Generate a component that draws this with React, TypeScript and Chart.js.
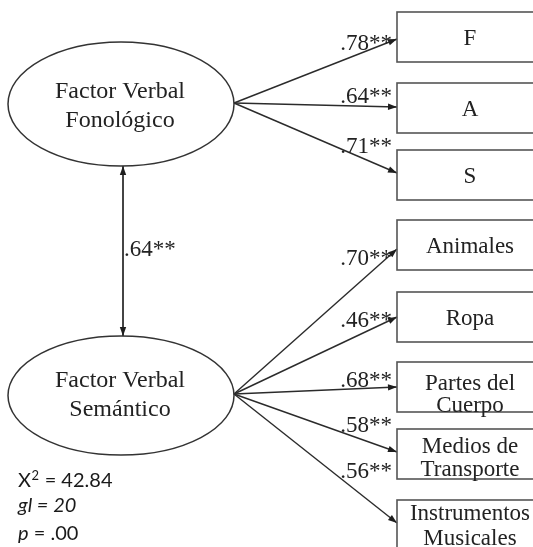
import React, { useEffect, useRef } from "react";
import { Chart, registerables } from "chart.js";

Chart.register(...registerables);

// ---- data ----
const factorNames = ["Factor Verbal\nFonológico", "Factor Verbal\nSemántico"];
const fonIndicators = ["F", "A", "S"];
const fonLoadings = [0.78, 0.64, 0.71];
const semIndicators = ["Animales", "Ropa", "Partes del\nCuerpo", "Medios de\nTransporte", "Instrumentos\nMusicales"];
const semLoadings = [0.7, 0.46, 0.68, 0.58, 0.56];
const factorCorrelation = 0.64;
const significance = "**";
const fitLabels = ["X", "gl", "p"];
const fitValues = ["42.84", "20", ".00"];

// ---- layout ----
const W = 533;
const H = 547;
const ellipses = [
  { cx: 121, cy: 104, rx: 113, ry: 62, textX: 120, baselines: [98, 127] },
  { cx: 121, cy: 395.5, rx: 113, ry: 59.5, textX: 120, baselines: [387, 416] },
];
const sources = [
  { x: 234, y: 103 },
  { x: 234, y: 394 },
];
const boxLeft = 397;
const boxRight = 545;
const boxHeight = 50;
const boxTextX = 470;
const fonBoxTops = [12, 83, 150];
const semBoxTops = [220, 292, 362, 429, 500];
const fonTargets = [39, 107, 173];
const semTargets = [249, 317, 387, 452, 523];
const fonLabelBaselines = [50, 103, 153];
const semLabelBaselines = [265, 327, 387, 432, 478];
const semTextBaselines = [[253], [325], [390, 412], [453, 476], [520, 545]];
const fonTextBaselines = [[45], [116], [183]];
const labelRight = 392;
const corrX = 123;
const corrTop = 166;
const corrBottom = 336;
const corrLabel = { x: 124, y: 256 };
const fitX = 18;
const fitBaselines = [487, 512, 540];

const fmt = (v: number) => "." + v.toFixed(2).slice(2) + significance;

export default function App() {
  const ref = useRef<HTMLCanvasElement | null>(null);

  useEffect(() => {
    document.body.style.margin = "0";
    const canvas = ref.current;
    if (!canvas) return;

    const arrowDatasets: any[] = [];
    fonTargets.forEach((ty) => {
      arrowDatasets.push({ data: [sources[0], { x: boxLeft, y: ty }], heads: "end", borderWidth: 1.4 });
    });
    semTargets.forEach((ty) => {
      arrowDatasets.push({ data: [sources[1], { x: boxLeft, y: ty }], heads: "end", borderWidth: 1.4 });
    });
    arrowDatasets.push({
      data: [
        { x: corrX, y: corrTop },
        { x: corrX, y: corrBottom },
      ],
      heads: "both",
      borderWidth: 1,
    });

    const datasets = arrowDatasets.map((d) => ({
      type: "line" as const,
      data: d.data,
      heads: d.heads,
      showLine: true,
      borderColor: "#2b2b2b",
      borderWidth: d.borderWidth,
      pointRadius: 0,
      fill: false,
      tension: 0,
    }));

    const semPlugin = {
      id: "semPlugin",
      beforeDraw(chart: any) {
        const c = chart.ctx;
        c.save();
        c.fillStyle = "#ffffff";
        c.fillRect(0, 0, chart.width, chart.height);
        c.restore();
      },
      afterDatasetsDraw(chart: any) {
        const c: CanvasRenderingContext2D = chart.ctx;
        const xs = chart.scales.x;
        const ys = chart.scales.y;
        const px = (v: number) => xs.getPixelForValue(v);
        const py = (v: number) => ys.getPixelForValue(v);
        const dx = (v: number) => Math.abs(px(v) - px(0));
        const dy = (v: number) => Math.abs(py(v) - py(0));
        c.save();

        // arrowheads
        const head = (x1: number, y1: number, x2: number, y2: number) => {
          const a = Math.atan2(y2 - y1, x2 - x1);
          const L = 9;
          const Wd = 3.2;
          c.beginPath();
          c.moveTo(x2, y2);
          c.lineTo(x2 - L * Math.cos(a) + Wd * Math.sin(a), y2 - L * Math.sin(a) - Wd * Math.cos(a));
          c.lineTo(x2 - L * Math.cos(a) - Wd * Math.sin(a), y2 - L * Math.sin(a) + Wd * Math.cos(a));
          c.closePath();
          c.fillStyle = "#1e1e1e";
          c.fill();
        };
        chart.data.datasets.forEach((ds: any, i: number) => {
          const pts = chart.getDatasetMeta(i).data;
          if (pts.length < 2) return;
          const p0 = pts[0];
          const p1 = pts[pts.length - 1];
          head(p0.x, p0.y, p1.x, p1.y);
          if (ds.heads === "both") head(p1.x, p1.y, p0.x, p0.y);
        });

        // ellipses
        c.strokeStyle = "#333333";
        c.lineWidth = 1.5;
        ellipses.forEach((e) => {
          c.beginPath();
          c.ellipse(px(e.cx), py(e.cy), dx(e.rx), dy(e.ry), 0, 0, Math.PI * 2);
          c.stroke();
        });

        // boxes
        c.strokeStyle = "#555555";
        c.lineWidth = 1.6;
        const drawBox = (top: number) => {
          c.strokeRect(px(boxLeft), py(top), px(boxRight) - px(boxLeft), dy(boxHeight));
        };
        fonBoxTops.forEach(drawBox);
        semBoxTops.forEach(drawBox);

        // texts
        c.fillStyle = "#222222";
        c.textBaseline = "alphabetic";
        c.textAlign = "center";
        c.font = "24px 'Liberation Serif', 'Times New Roman', serif";
        factorNames.forEach((n, i) => {
          const e = ellipses[i];
          n.split("\n").forEach((line, j) => {
            c.fillText(line, px(e.textX), py(e.baselines[j]));
          });
        });
        c.font = "23px 'Liberation Serif', 'Times New Roman', serif";
        fonIndicators.forEach((n, i) => {
          n.split("\n").forEach((line, j) => {
            c.fillText(line, px(boxTextX), py(fonTextBaselines[i][j]));
          });
        });
        semIndicators.forEach((n, i) => {
          n.split("\n").forEach((line, j) => {
            c.fillText(line, px(boxTextX), py(semTextBaselines[i][j]));
          });
        });

        // loadings
        c.textAlign = "right";
        c.font = "23px 'Liberation Serif', 'Times New Roman', serif";
        fonLoadings.forEach((v, i) => {
          c.fillText(fmt(v), px(labelRight), py(fonLabelBaselines[i]));
        });
        semLoadings.forEach((v, i) => {
          c.fillText(fmt(v), px(labelRight), py(semLabelBaselines[i]));
        });
        c.textAlign = "left";
        c.fillText(fmt(factorCorrelation), px(corrLabel.x), py(corrLabel.y));

        // fit statistics
        c.fillStyle = "#1a1a1a";
        const sans = "'Lato', 'Liberation Sans', sans-serif";
        const x0 = px(fitX);
        // X² line
        c.font = `20px ${sans}`;
        c.fillText(fitLabels[0], x0, py(fitBaselines[0]));
        let x = x0 + c.measureText(fitLabels[0]).width;
        c.font = `13px ${sans}`;
        c.fillText("2", x + 0.5, py(fitBaselines[0] - 7));
        x += c.measureText("2").width + 1;
        c.font = `20px ${sans}`;
        c.fillText(" = " + fitValues[0], x, py(fitBaselines[0]));
        // gl line
        c.font = `italic 20px ${sans}`;
        c.fillText(fitLabels[1] + " = " + fitValues[1], x0, py(fitBaselines[1]));
        // p line
        c.fillText(fitLabels[2], x0, py(fitBaselines[2]));
        const w = c.measureText(fitLabels[2]).width;
        c.font = `20px ${sans}`;
        c.fillText(" = " + fitValues[2], x0 + w, py(fitBaselines[2]));

        c.restore();
      },
    };

    const chart = new Chart(canvas, {
      type: "scatter",
      data: { datasets: datasets as any },
      options: {
        responsive: false,
        animation: false,
        events: [],
        layout: { padding: 0 },
        plugins: { legend: { display: false }, tooltip: { enabled: false } },
        scales: {
          x: { type: "linear", min: 0, max: W, display: false },
          y: { type: "linear", min: 0, max: H, reverse: true, display: false },
        },
      },
      plugins: [semPlugin],
    });
    return () => chart.destroy();
  }, []);

  return (
    <div style={{ position: "fixed", left: 0, top: 0, width: W, height: H, background: "#fff" }}>
      <canvas ref={ref} width={W} height={H} style={{ display: "block", width: W, height: H }} />
    </div>
  );
}
